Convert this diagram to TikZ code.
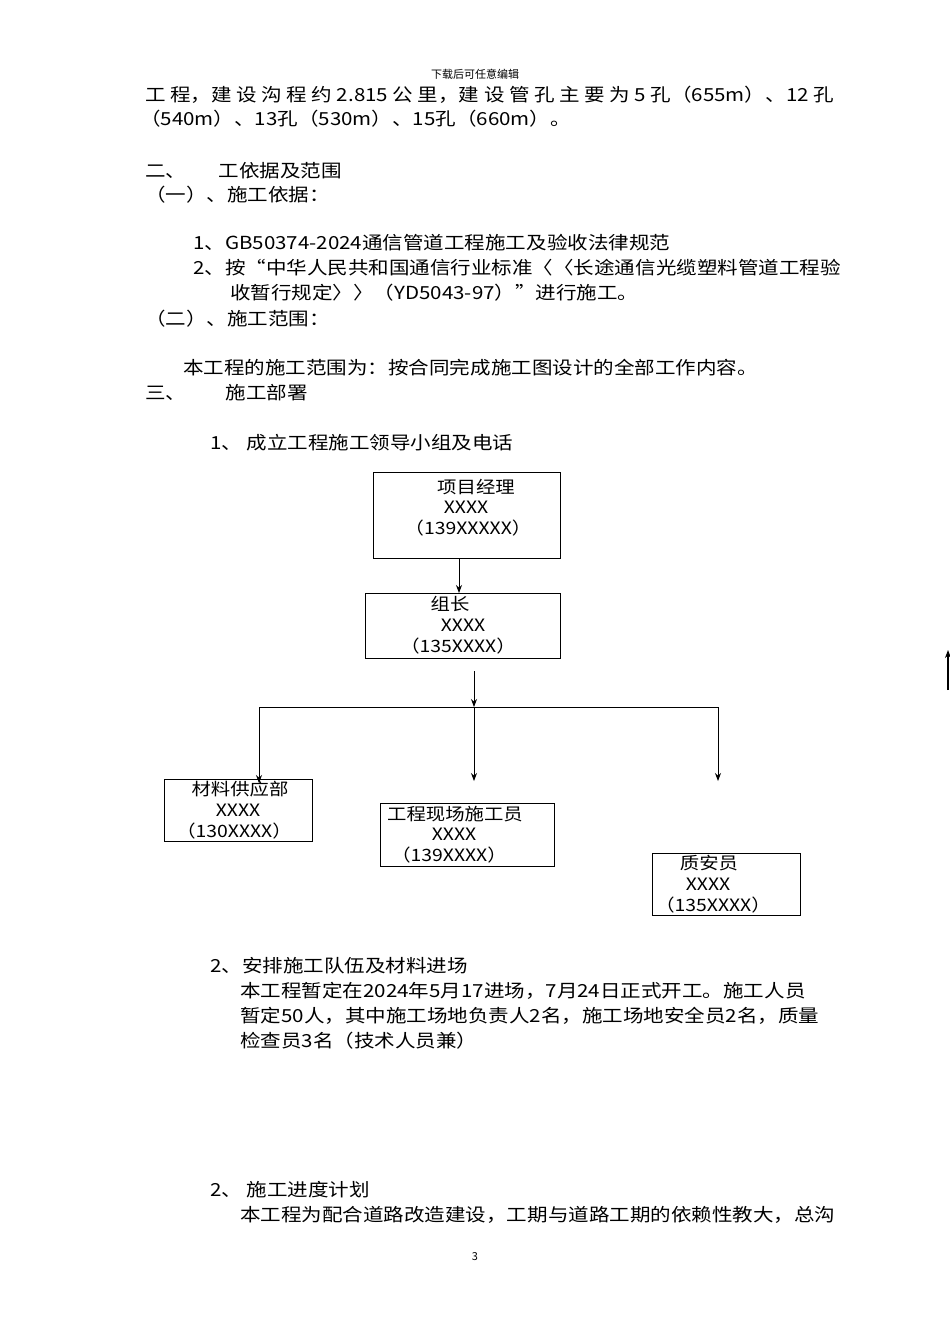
\documentclass[tikz,border=0pt]{standalone}
\usepackage{fontspec}
\usetikzlibrary{arrows.meta}
\setmainfont{Liberation Serif}
\newfontfamily\cjk[FakeStretch=1.14]{Noto Sans CJK SC}
\newfontfamily\cjkn{Noto Sans CJK SC}
\begin{document}
\begin{tikzpicture}[x=1pt,y=-1pt,
  txt/.style={anchor=west,inner sep=0pt,font=\cjk\fontsize{18}{20}\selectfont},
  ctxt/.style={inner sep=0pt,font=\cjk\fontsize{17}{19}\selectfont},
  small/.style={inner sep=0pt,font=\cjkn\fontsize{11}{12}\selectfont},
  box/.style={draw,line width=0.8pt},
  arr/.style={-{Stealth[length=8pt,width=6pt]},line width=0.8pt},
  ln/.style={line width=0.8pt}]
\useasboundingbox[fill=white] (0,0) rectangle (950,1344);
\node[small] (hdr) at (475,74) {下载后可任意编辑};
\node[txt] (l1) at (145,95) {工 程，建 设 沟 程 约 2.815 公 里，建 设 管 孔 主 要 为 5 孔（655m）、12 孔};
\node[txt] (l2) at (140,119) {（540m）、13孔（530m）、15孔（660m）。};
\node[txt] (l3) at (145,171) {二、\hspace{1.8em}工依据及范围};
\node[txt] (l4) at (145,195) {（一）、施工依据：};
\node[txt] (l5) at (193,243) {1、GB50374-2024通信管道工程施工及验收法律规范};
\node[txt] (l6) at (193,268) {2、按“中华人民共和国通信行业标准〈〈长途通信光缆塑料管道工程验};
\node[txt] (l7) at (230,293) {收暂行规定〉〉（YD5043-97）”进行施工。};
\node[txt] (l8) at (145,319) {（二）、施工范围：};
\node[txt] (l9) at (183,368) {本工程的施工范围为：按合同完成施工图设计的全部工作内容。};
\node[txt] (l10) at (145,393) {三、\hspace{2.2em}施工部署};
\node[txt] (l11) at (210,443) {1、 成立工程施工领导小组及电话};

\node[box,minimum width=187pt,minimum height=86pt] (b1) at (466.5,515) {};
\node[ctxt] at (476,487) {项目经理};
\node[ctxt] at (466,507) {XXXX};
\node[ctxt] at (468,528) {（139XXXXX）};
\node[box,minimum width=195pt,minimum height=65pt] (b2) at (462.5,625.5) {};
\node[ctxt] at (450,604) {组长};
\node[ctxt] at (463,625) {XXXX};
\node[ctxt] at (458,646) {（135XXXX）};
\draw[arr] (459,558) -- (459,593);
\coordinate (top) at (474,671);
\coordinate (j) at (474,707);
\coordinate (jl) at (259,707);
\coordinate (jr) at (718,707);
\draw[arr] (top) -- (j);
\draw[ln] (jl) -- (jr);
\node[box,minimum width=148pt,minimum height=62pt] (b3) at (238,810) {};
\node[ctxt] at (240,789) {材料供应部};
\node[ctxt] at (238,810) {XXXX};
\node[ctxt] at (234,831) {（130XXXX）};
\node[box,minimum width=174pt,minimum height=63pt] (b4) at (467,834.5) {};
\node[ctxt] at (455,814) {工程现场施工员};
\node[ctxt] at (454,834) {XXXX};
\node[ctxt] at (449,855) {（139XXXX）};
\node[box,minimum width=148pt,minimum height=62pt] (b5) at (726,884) {};
\node[ctxt] at (709,863) {质安员};
\node[ctxt] at (708,884) {XXXX};
\node[ctxt] at (713,905) {（135XXXX）};
\coordinate (e1) at (259,783);
\coordinate (e2) at (474,781);
\coordinate (e3) at (718,781);
\draw[arr] (jl) -- (e1);
\draw[arr] (j) -- (e2);
\draw[arr] (jr) -- (e3);
\coordinate (m1) at (948,690);
\coordinate (m2) at (948,650);
\draw[-{Stealth[length=8pt,width=6pt]},line width=2.5pt] (m1) -- (m2);

\node[txt] (s1) at (210,966) {2、安排施工队伍及材料进场};
\node[txt] (s2) at (240,991) {本工程暂定在2024年5月17进场，7月24日正式开工。施工人员};
\node[txt] (s3) at (240,1016) {暂定50人，其中施工场地负责人2名，施工场地安全员2名，质量};
\node[txt] (s4) at (240,1041) {检查员3名（技术人员兼）};
\node[txt] (s5) at (210,1190) {2、 施工进度计划};
\node[txt] (s6) at (240,1215) {本工程为配合道路改造建设，工期与道路工期的依赖性教大，总沟};
\node[small] (pg) at (475,1257) {3};
\end{tikzpicture}
\end{document}
